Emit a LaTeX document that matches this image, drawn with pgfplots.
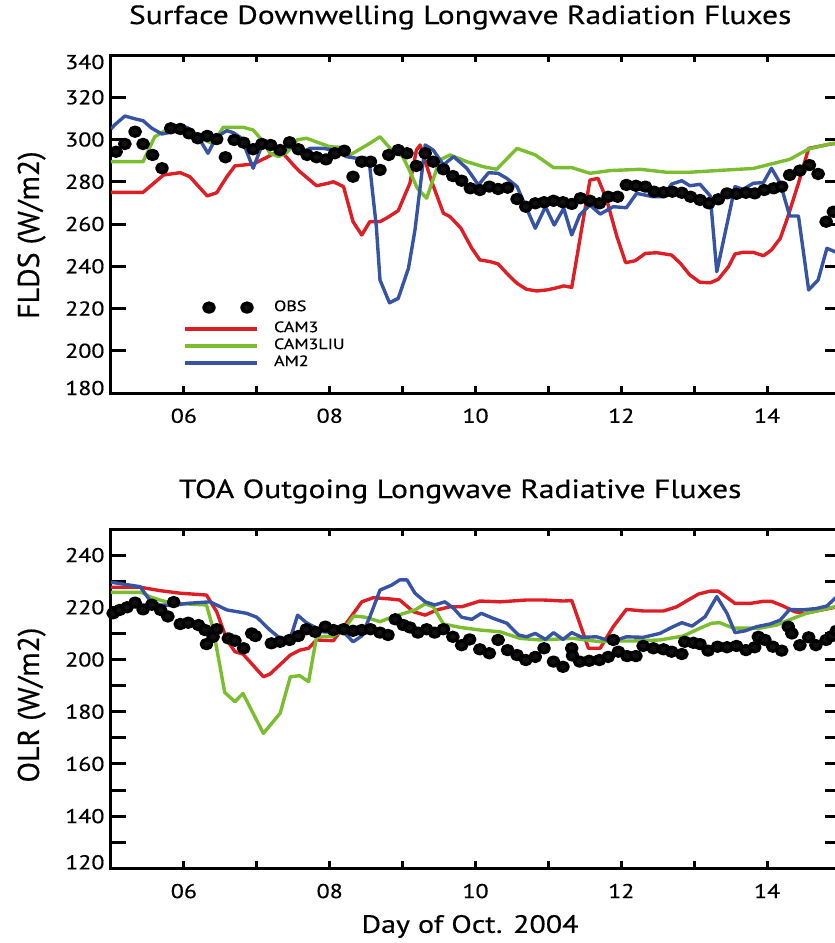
\documentclass[border=0pt]{standalone}
\usepackage{fontspec}
\setmainfont{PT Sans}[FakeStretch=1.2, FakeBold=0.5]
\newfontfamily\ylfont{PT Sans}[FakeBold=0.5]
\usepackage{pgfplots}
\pgfplotsset{compat=1.18}

\definecolor{camred}{RGB}{221,30,37}
\definecolor{camgreen}{RGB}{122,190,48}
\definecolor{amblue}{RGB}{55,84,164}
\definecolor{obsdot}{RGB}{17,17,17}

\pgfplotsset{
  panel/.style={
    scale only axis, width=729pt,
    xmin=5, xmax=15,
    axis line style={line width=3pt},
    tick style={line width=3pt, black},
    tick align=inside,
    major tick length=15pt, minor tick length=15pt,
    xtick style={/pgfplots/major tick length=7pt},
    xtick={6,...,14}, xticklabels={06,,08,,10,,12,,14},
    /pgf/number format/assume math mode=true,
    tick label style={font=\fontsize{20}{20}\selectfont},
    xticklabel style={yshift=-12pt},
    yticklabel style={xshift=-3pt},
    title style={at={(axis description cs:0.479,1)}, anchor=base, yshift=25pt,
      font=\fontsize{26.3}{26.3}\selectfont},
    ylabel style={anchor=base, font=\ylfont\fontsize{30}{30}\selectfont},
    every axis plot/.append style={line width=3.4pt, line join=round},
  },
  obs/.style={only marks, mark=*, mark size=4.5pt,
    mark options={xscale=1.15, fill=obsdot, draw=none}},
  obsleg/.style={obs, legend image code/.code={%
    \draw[##1] plot coordinates {(24pt,4pt) (62pt,4pt)};}},
}

\begin{document}
\begin{tikzpicture}

% upper panel: FLDS
\begin{axis}[panel, at={(111pt,-393pt)}, anchor=south west, height=338pt,
  ymin=180, ymax=340, ytick={180,200,...,340},
  yticklabel style={yshift={ifthenelse(\ticknum==0,5,ifthenelse(\ticknum==8,-7,0))*1pt}},
  title={Surface Downwelling Longwave Radiation Fluxes},
  ylabel={FLDS (W/m2)},
  ylabel style={at={(axis description cs:-0.0988,0.467)}},
  legend style={draw=none, fill=none, at={(rel axis cs:0.0988,0.266)}, anchor=north west,
    inner sep=0pt, outer sep=0pt, row sep=2pt, column sep=15pt,
    font=\fontsize{15}{15}\selectfont,
    nodes={inner sep=0pt, text height=11pt, text depth=4pt}},
  legend cell align=left,
  legend image code/.code={\draw[#1, line width=4pt] (0pt,0pt) -- (72pt,0pt);},
]
\addlegendimage{obsleg}
\addlegendentry{\raisebox{4pt}{OBS}}

\addplot[camred] coordinates {
(5.0,275) (5.44,275) (5.72,283.2) (5.95,284.3) (6.08,282.4) (6.32,273.3) (6.45,274.8)
(6.59,282.4) (6.70,287.5) (6.95,288.4) (7.14,291.6) (7.32,295) (7.50,288) (7.59,284.8)
(7.82,278.1) (7.98,279.3) (8.05,280) (8.19,277.7) (8.32,261.1) (8.44,254.8) (8.55,261.1)
(8.69,261.1) (8.80,263.2) (8.94,266.3) (9.10,279.3) (9.19,295) (9.24,297.4) (9.40,280)
(9.56,265.1) (9.65,263.5) (9.80,258) (9.95,248.5) (10.06,243) (10.20,242.2) (10.31,241.1)
(10.45,235.9) (10.57,231.9) (10.70,229.1) (10.84,228.3) (10.98,228.8) (11.09,229.6)
(11.21,230.7) (11.32,230.0) (11.57,280.8) (11.68,281.6) (11.80,271.4) (11.94,254)
(12.06,241.7) (12.19,242.6) (12.33,246.1) (12.49,246.4) (12.69,245.3) (12.81,241.4)
(12.94,235.9) (13.08,232.4) (13.22,232.2) (13.33,233.8) (13.47,239.8) (13.56,245.8)
(13.67,246.6) (13.81,246.6) (13.95,245.0) (14.06,247.7) (14.18,253.2) (14.27,261.9)
(14.43,279.3) (14.57,295.8) (14.73,296.9) (14.93,298.2) (15.0,298.5)
};
\addlegendentry{CAM3}

\addplot[camgreen] coordinates {
(5.0,289.5) (5.44,289.5) (5.60,301.3) (5.76,304.5) (6.0,303.5) (6.2,301) (6.4,298)
(6.54,305.8) (6.81,305.8) (6.95,304.5) (7.09,299) (7.18,293.5) (7.30,291.9) (7.41,293.8)
(7.55,299.8) (7.68,300.6) (7.87,298.2) (8.0,296.6) (8.14,296.3) (8.28,292.7) (8.55,298.2)
(8.69,301.3) (8.85,295) (9.0,292) (9.1,285) (9.2,277) (9.33,272.2) (9.51,290.3)
(9.65,292.7) (9.88,289.5) (10.11,287.1) (10.29,285.9) (10.57,295.8) (10.82,292.7)
(11.07,286.7) (11.32,286.7) (11.57,284) (11.85,285.3) (12.26,285.9) (12.62,284.5)
(12.94,284.5) (13.31,285.3) (13.81,286.3) (14.09,288.7) (14.31,290.6) (14.57,295.5)
(14.86,297.9) (15.0,298.2)
};
\addlegendentry{CAM3LIU}

\addplot[amblue] coordinates {
(5.0,305) (5.05,306.9) (5.19,311.1) (5.35,309.6) (5.44,308.9) (5.56,305.3) (5.70,302.6)
(5.85,303.7) (6.04,305.8) (6.18,302.1) (6.33,293.5) (6.45,301.3) (6.59,304.2) (6.68,303.2)
(6.79,300.6) (6.95,286.4) (7.09,299) (7.27,295.8) (7.46,296.6) (7.59,293.5) (7.73,295.8)
(7.91,295.8) (8.05,295) (8.23,291.9) (8.37,291.1) (8.48,291.5) (8.55,287.1) (8.64,258.7)
(8.69,233.5) (8.82,222.7) (8.94,224.8) (9.08,239) (9.17,257.2) (9.31,297.4) (9.42,295)
(9.56,288) (9.70,291.9) (9.88,286.4) (10.04,278.5) (10.18,284.3) (10.31,284) (10.43,281.6)
(10.57,277.7) (10.68,269) (10.82,258) (10.96,268.2) (11.08,259.5) (11.21,267.4)
(11.32,254.8) (11.43,264.3) (11.57,269) (11.71,264.7) (11.89,268.2) (12.07,267.7)
(12.21,274.5) (12.44,272.9) (12.57,272.9) (12.69,278.9) (12.83,280.5) (12.94,278.1)
(13.08,278.8) (13.22,273.3) (13.31,237.4) (13.56,277.7) (13.67,276.4) (13.81,279.3)
(13.95,279.6) (14.06,286.4) (14.18,279.3) (14.31,263.8) (14.43,263.8) (14.57,228.8)
(14.70,233.5) (14.82,248.5) (14.93,246.9) (15.0,246)
};
\addlegendentry{AM2}

\addplot[obs, forget plot] coordinates {
(5.07,294.2) (5.19,297.9) (5.33,303.7) (5.44,297.9) (5.57,292.7) (5.70,286.4) (5.82,305.3)
(5.95,305) (6.07,302.9) (6.19,300.6) (6.32,301.7) (6.45,300.2) (6.57,291.6) (6.69,299.8)
(6.82,298.5) (6.95,295.4) (7.07,297.9) (7.19,297.4) (7.32,295) (7.45,298.7) (7.57,295.4)
(7.69,292.7) (7.82,291.6) (7.95,290.6) (8.07,293.5) (8.20,294.7) (8.32,282.4) (8.44,289.5)
(8.56,289.5) (8.69,285.6) (8.81,292.7) (8.94,295) (9.06,293.5) (9.19,287.5) (9.31,293.5)
(9.42,289.5) (9.56,285.9) (9.69,282.7) (9.81,280.5) (9.93,276.9) (10.06,276.1)
(10.19,277.7) (10.31,276.6) (10.44,277.2) (10.57,271.8) (10.69,268.2) (10.82,269.8)
(10.94,270.3) (11.07,271) (11.20,270.3) (11.32,269.5) (11.44,272.2) (11.57,271)
(11.70,269.8) (11.82,272.9) (11.95,272.9) (12.07,278.5) (12.20,278.1) (12.33,277.7)
(12.45,275.3) (12.58,275) (12.70,275.3) (12.83,274.8) (12.95,272.9) (13.08,271.4)
(13.20,269.8) (13.33,271.7) (13.45,274.5) (13.58,274.3) (13.71,274.8) (13.83,274.5)
(13.96,276.1) (14.09,276.9) (14.20,277.7) (14.31,283.2) (14.45,285.3) (14.58,287.9)
(14.70,283.7) (14.81,261.1) (14.91,265.8)
};
\end{axis}

% lower panel: OLR
\begin{axis}[panel, at={(111pt,-868.3pt)}, anchor=south west, height=339.3pt,
  ymin=120, ymax=250, ytick={120,140,...,240}, minor ytick={130,150,...,250},
  yticklabel style={yshift={ifthenelse(\ticknum==0,6,0)*1pt}},
  title={TOA Outgoing Longwave Radiative Fluxes},
  ylabel={OLR (W/m2)},
  ylabel style={at={(axis description cs:-0.0988,0.481)}},
  xlabel={Day of Oct. 2004},
  xlabel style={at={(axis description cs:0.4925,0)}, anchor=base, yshift=-64.5pt,
    font=\fontsize{25}{25}\selectfont},
]
\addplot[camred] coordinates {
(5.0,227.7) (5.40,227.7) (5.67,226.4) (5.95,225.4) (6.31,224.7) (6.45,218.3) (6.59,207.5)
(6.70,203) (6.81,202.1) (7.09,193.4) (7.18,194.4) (7.46,201.7) (7.59,203.6) (7.71,204.3)
(7.82,207.5) (8.05,207.2) (8.26,215.1) (8.44,222.1) (8.60,223.7) (8.83,223.2) (8.96,222.8)
(9.15,218.3) (9.31,217) (9.47,219) (9.65,220.2) (9.81,220.2) (10.06,222.4) (10.34,222.1)
(10.70,222.8) (10.93,222.8) (11.21,222.4) (11.32,222.6) (11.55,204.3) (11.71,204.3)
(11.89,212.6) (12.07,219.2) (12.30,218.6) (12.58,218.6) (12.76,220.2) (12.90,222.5)
(13.06,225.1) (13.22,226.2) (13.33,226.2) (13.56,221.5) (13.77,221.5) (13.95,222.3)
(14.06,222.3) (14.22,220.5) (14.38,218.3) (14.52,217.7) (14.93,220) (15.0,220.3)
};
\addplot[camgreen] coordinates {
(5.0,225.7) (5.42,225.7) (5.53,224.1) (5.67,222.8) (5.85,221.5) (6.04,221.3) (6.31,220.9)
(6.40,211.9) (6.56,187.4) (6.70,183.8) (6.81,187) (7.09,171.7) (7.32,179.4) (7.46,193.4)
(7.59,193.8) (7.71,191.5) (7.82,208.7) (8.05,209) (8.19,211.3) (8.33,216.7) (8.49,216.2)
(8.69,214.5) (8.85,216.2) (9.17,219) (9.31,221.3) (9.42,220.2) (9.56,213.6) (9.79,212.3)
(10.06,211.3) (10.34,210.6) (10.61,208.1) (10.88,207.5) (11.34,208.1) (11.71,206.8)
(11.89,207.1) (12.17,207.1) (12.53,207.5) (12.85,209) (13.08,212) (13.24,213.9)
(13.35,214.1) (13.54,212) (13.90,212) (14.13,213.2) (14.36,215.8) (14.54,217.7)
(14.93,220.2) (15.0,220.5)
};
\addplot[amblue] coordinates {
(5.0,229.6) (5.05,229.4) (5.40,227.9) (5.53,222.8) (5.67,220.9) (5.85,220.7) (6.04,221.5)
(6.36,222.1) (6.59,219) (6.86,217.7) (7.00,216.2) (7.18,211.3) (7.32,208.1) (7.46,208.1)
(7.56,217) (7.68,214.1) (7.80,212.3) (7.91,210.6) (8.05,210.6) (8.19,210.6) (8.32,206.8)
(8.44,209) (8.56,217) (8.69,226.6) (8.85,228.5) (8.96,230.5) (9.06,230.5) (9.17,225.4)
(9.31,222.1) (9.44,220.9) (9.58,222.1) (9.70,219.6) (9.81,216.2) (9.95,215.4) (10.08,217.7)
(10.24,215.8) (10.43,213.9) (10.59,209.4) (10.70,208.7) (10.82,210) (10.96,207.7)
(11.07,210.3) (11.20,207.7) (11.32,210.3) (11.46,208.5) (11.66,208.7) (11.80,207.5)
(11.94,207.5) (12.07,208.7) (12.30,208.5) (12.53,210) (12.69,212.3) (12.83,214.1)
(12.97,212.8) (13.15,216.4) (13.31,224.1) (13.45,217.7) (13.56,210.3) (13.70,211)
(13.86,212.6) (14.04,213.6) (14.18,215.1) (14.31,219.2) (14.47,219) (14.67,219.5)
(14.82,220.5) (14.93,223.4) (15.0,225)
};
\addplot[obs] coordinates {
(5.03,217.7) (5.12,219) (5.22,220) (5.33,221.8) (5.44,219.2) (5.56,221) (5.68,219)
(5.78,216.5) (5.86,222) (5.95,213.6) (6.06,214.1) (6.20,213.2) (6.29,211.3) (6.31,205.9)
(6.40,208.7) (6.45,211.6) (6.61,208.1) (6.70,207.2) (6.82,204.3) (6.93,210) (6.98,209)
(7.20,206.2) (7.32,206.8) (7.45,207.5) (7.57,209) (7.68,211.6) (7.80,210.6) (7.94,212.6)
(8.05,211.3) (8.19,211.6) (8.32,211) (8.44,211.3) (8.56,211.6) (8.69,210.3) (8.80,209.4)
(8.90,215.4) (9.01,213.2) (9.10,212.3) (9.21,210.3) (9.33,211.6) (9.44,210.3) (9.56,211.6)
(9.69,208.7) (9.81,205.5) (9.92,207.7) (10.06,203.9) (10.19,202.4) (10.31,207.5)
(10.44,203.6) (10.57,201.7) (10.69,199.8) (10.82,201) (10.94,204.3) (11.07,199.2)
(11.20,197.2) (11.32,204.3) (11.33,201.5) (11.43,199.2) (11.56,199.5) (11.70,199.8)
(11.82,201) (11.89,207.5) (11.96,203) (12.08,201.3) (12.20,201.3) (12.30,205.2)
(12.44,204.3) (12.58,203.9) (12.69,203) (12.83,202.1) (12.87,206.8) (12.99,206.4)
(13.08,205.9) (13.19,203.4) (13.32,204.9) (13.45,204.7) (13.58,205.2) (13.71,203.6)
(13.83,204.7) (13.88,208.7) (13.97,207.5) (14.08,204.9) (14.20,203.4) (14.29,212.6)
(14.34,210) (14.45,205.5) (14.57,208.5) (14.67,205.5) (14.81,207.5) (14.89,209) (14.95,211)
};
\end{axis}

\pgfresetboundingbox
\path[use as bounding box] (0pt,0pt) rectangle (835pt,-943pt);
\end{tikzpicture}
\end{document}
